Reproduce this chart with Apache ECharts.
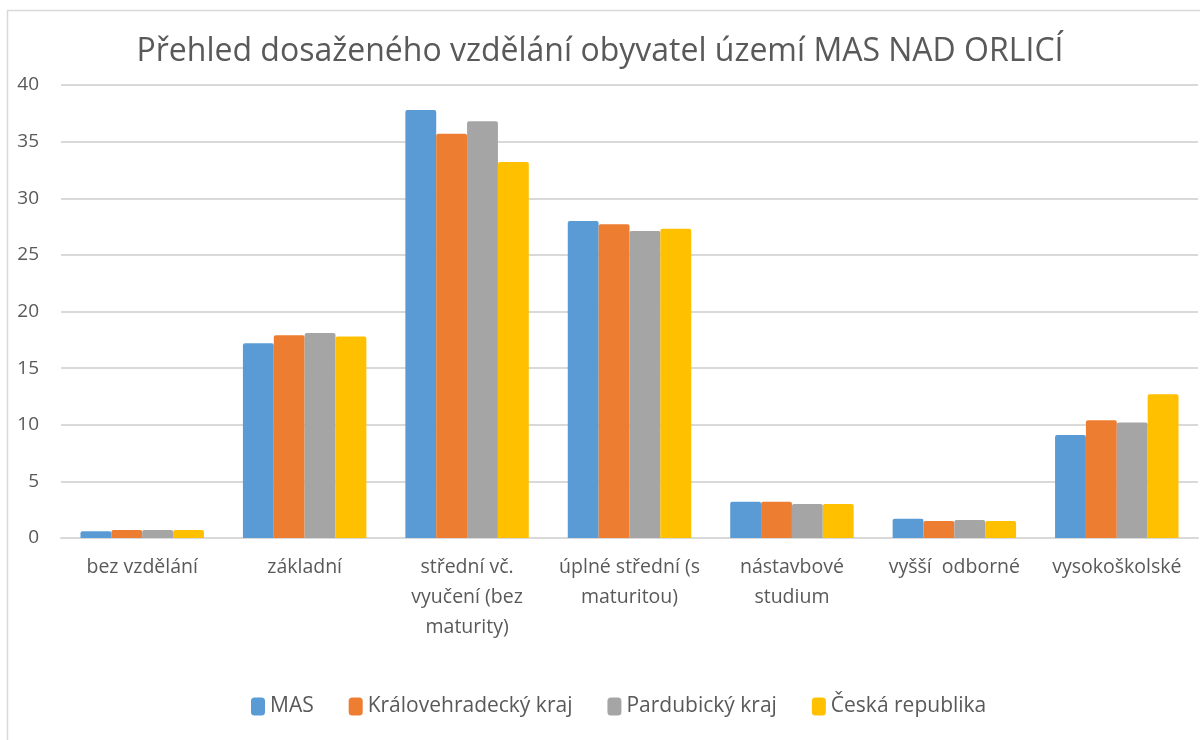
<!DOCTYPE html>
<html>
<head>
<meta charset="utf-8">
<script src="https://cdn.jsdelivr.net/npm/echarts@6/dist/echarts.min.js"></script>
<style>
  html, body { margin: 0; padding: 0; background: #fff; }
  #main { width: 1200px; height: 740px; }
</style>
</head>
<body>
<div id="main"></div>
<script>
// kategorie (osa x)
var categories = [
    'bez vzdělání',
    'základní',
    'střední vč.\nvyučení (bez\nmaturity)',
    'úplné střední (s\nmaturitou)',
    'nástavbové\nstudium',
    'vyšší  odborné',
    'vysokoškolské'
];

// hodnoty v %
var masValues = [0.6, 17.2, 37.8, 28.0, 3.2, 1.7, 9.1];
var khkValues = [0.7, 17.9, 35.7, 27.7, 3.2, 1.5, 10.4];
var pakValues = [0.7, 18.1, 36.8, 27.1, 3.0, 1.6, 10.2];
var crValues  = [0.7, 17.8, 33.2, 27.3, 3.0, 1.5, 12.7];

var seriesNames = ['MAS', 'Královehradecký kraj', 'Pardubický kraj', 'Česká republika'];
var seriesColors = ['#5b9bd5', '#ed7d31', '#a5a5a5', '#ffc000'];

var yTicks = { min: 0, max: 40, interval: 5 };

var font = 'Open Sans';
var chart = echarts.init(document.getElementById('main'));

var allValues = [masValues, khkValues, pakValues, crValues];

var option = {
    animation: false,
    color: seriesColors,
    //nadpis
    title: {
        text: 'Přehled dosaženého vzdělání obyvatel území MAS NAD ORLICÍ',
        left: 'center',
        top: 31,
        textStyle: {
            color: '#595959',
            fontFamily: font,
            fontWeight: 'normal',
            fontSize: 32
        }
    },
    //rámeček grafu
    graphic: [{
        type: 'rect',
        left: 5,
        top: 8,
        shape: { width: 1200, height: 740 },
        style: { fill: 'none', stroke: '#d9d9d9', lineWidth: 1.5 },
        silent: true
    }],
    legend: {
        bottom: 18,
        left: 246,
        itemWidth: 14,
        itemHeight: 18,
        itemGap: 35,
        icon: 'roundRect',
        textStyle: { color: '#595959', fontFamily: font, fontSize: 21 },
        data: seriesNames
    },
    grid: {
        left: 61,
        right: 2,
        top: 85,
        bottom: 202
    },
    xAxis: {
        type: 'category',
        data: categories,
        axisLine: { lineStyle: { color: '#d9d9d9', width: 2 } },
        axisTick: { show: false },
        axisLabel: {
            color: '#595959',
            fontFamily: font,
            fontSize: 19.5,
            lineHeight: 30,
            margin: 14,
            interval: 0
        }
    },
    yAxis: {
        type: 'value',
        min: yTicks.min,
        max: yTicks.max,
        interval: yTicks.interval,
        axisLine: { show: false },
        axisTick: { show: false },
        splitLine: { lineStyle: { color: '#d9d9d9', width: 2 } },
        axisLabel: {
            color: '#595959',
            fontFamily: font,
            fontSize: 19,
            margin: 22
        }
    },
    series: seriesNames.map(function (name, i) {
        return {
            name: name,
            type: 'bar',
            data: allValues[i],
            barGap: '0%',
            barCategoryGap: '24%',
            itemStyle: { borderRadius: [2, 2, 0, 0] }
        };
    })
};

chart.setOption(option);
</script>
</body>
</html>
